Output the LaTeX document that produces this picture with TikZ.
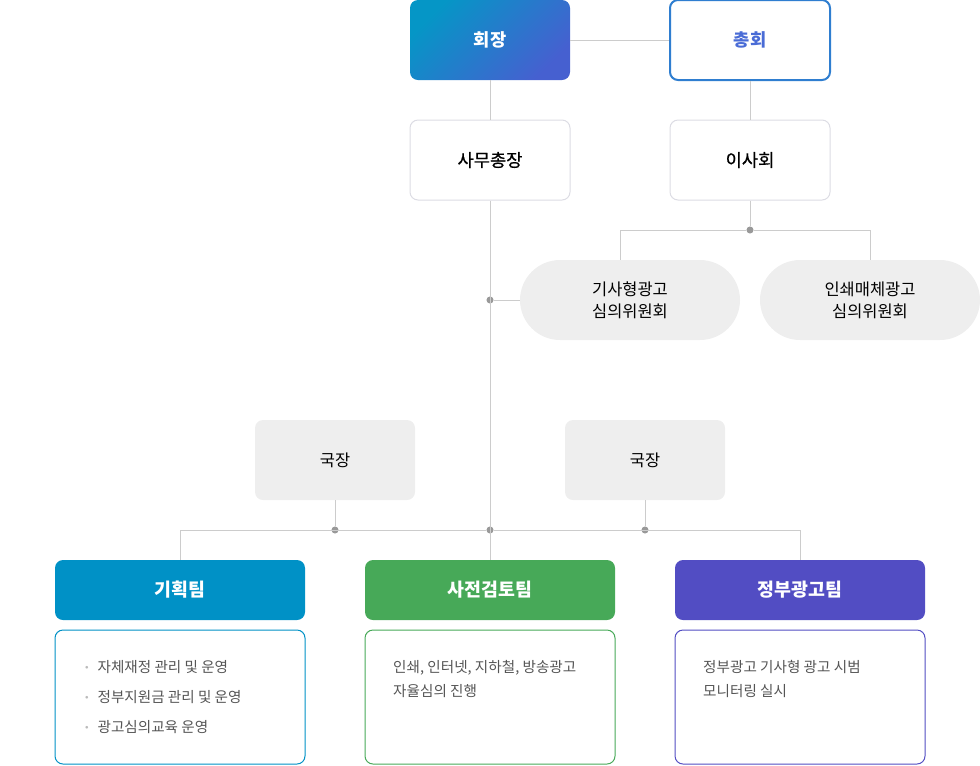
\documentclass[tikz,border=0pt]{standalone}
\usepackage{fontspec}
\setmainfont{Noto Sans CJK KR}
\newfontfamily\krmed[FakeBold=0.6]{Noto Sans CJK KR}
\definecolor{linegray}{HTML}{CCCCCC}
\definecolor{dotgray}{HTML}{999999}
\definecolor{boxline}{HTML}{DCDCE4}
\definecolor{pillgray}{HTML}{EEEEEE}
\definecolor{presA}{HTML}{0596C6}
\definecolor{presB}{HTML}{4660D0}
\definecolor{assembly}{HTML}{2F7ED0}
\definecolor{assemblytext}{HTML}{4A6CD6}
\definecolor{planblue}{HTML}{0091C6}
\definecolor{reviewgreen}{HTML}{47A958}
\definecolor{govpurple}{HTML}{524DC3}
\definecolor{desctext}{HTML}{555555}
\definecolor{bulletgray}{HTML}{BBBBBB}
\newcommand{\bul}{{\color{bulletgray}\raisebox{0.35ex}{\scalebox{0.5}{$\bullet$}}}\hspace{7.5pt}}
\begin{document}
\begin{tikzpicture}
  [x=0.85pt,y=-0.85pt,
   box/.style={rectangle,rounded corners=6.8pt,minimum width=136pt,minimum height=68pt,inner sep=0pt,font=\krmed\fontsize{15}{18}\selectfont},
   head/.style={box,draw=boxline,line width=0.85pt,fill=white},
   chief/.style={box,fill=pillgray,font=\fontsize{14}{17}\selectfont},
   pill/.style={rectangle,rounded corners=34pt,fill=pillgray,minimum width=187pt,minimum height=68pt,inner sep=0pt,align=center,font=\fontsize{14}{18.5}\selectfont},
   team/.style={rectangle,rounded corners=6.8pt,minimum width=212.5pt,minimum height=51pt,inner sep=0pt,text=white,font=\bfseries\fontsize{15.6}{18}\selectfont},
   desc/.style={rectangle,rounded corners=6.8pt,minimum width=212.5pt,minimum height=113.9pt,inner sep=0pt,fill=white,line width=0.85pt},
   desctxt/.style={anchor=north west,inner sep=0pt,align=left,text=desctext,font=\fontsize{12.4}{20.4}\selectfont},
   link/.style={draw=linegray,line width=0.85pt},
   dot/.style={circle,fill=dotgray,inner sep=0pt,minimum size=6pt}]
\useasboundingbox (0,0) rectangle (980,765); % adjust bounding box
% top
\node at (490,40) (pres) [box,top color=presA,bottom color=presB,shading angle=45,text=white,font=\bfseries\fontsize{15}{18}\selectfont] {회장};
\node at (750,40) (assem) [box,draw=assembly,line width=1.7pt,fill=white,text=assemblytext,font=\bfseries\fontsize{15}{18}\selectfont] {총회};
\node at (490,160) (secgen) [head] {사무총장};
\node at (750,160) (board) [head] {이사회};
\draw [link] (pres) -- (assem);
\draw [link] (pres) -- (secgen);
\draw [link] (assem) -- (board);
%
\node at (630,300) (cmtart) [pill] {기사형광고\\심의위원회};
\node at (870,300) (cmtprint) [pill] {인쇄매체광고\\심의위원회};
\node at (750,230) (boarddot) [dot] {};
\draw [link] (board) -- (boarddot);
\draw [link] (boarddot) -| ([xshift=-8.5pt]cmtart.north);
\draw [link] (boarddot) -| (cmtprint);
%
\node at (335,460) (chiefL) [chief] {국장};
\node at (645,460) (chiefR) [chief] {국장};
\node at (180,590) (plan) [team,fill=planblue] {기획팀};
\node at (490,590) (review) [team,fill=reviewgreen] {사전검토팀};
\node at (800,590) (gov) [team,fill=govpurple] {정부광고팀};
\node at (490,300) (spinedot) [dot] {};
\node at (490,530) (busdot) [dot] {};
\node at (335,530) (chiefLdot) [dot] {};
\node at (645,530) (chiefRdot) [dot] {};
\draw [link] (secgen) -- (review);
\draw [link] (spinedot) -- (cmtart);
\draw [link] (plan) |- (busdot) -| (gov);
\draw [link] (chiefL) -- (chiefLdot);
\draw [link] (chiefR) -- (chiefRdot);
% team details
\node at (180,697) (plandesc) [desc,draw=planblue] {};
\node at (490,697) (reviewdesc) [desc,draw=reviewgreen] {};
\node at (800,697) (govdesc) [desc,draw=govpurple] {};
\node at (85,660) (plantxt) [desctxt,font=\fontsize{12.4}{25.5}\selectfont] {\bul 자체재정 관리 및 운영\\\bul 정부지원금 관리 및 운영\\\bul 광고심의교육 운영};
\node at (393,660) (reviewtxt) [desctxt] {인쇄, 인터넷, 지하철, 방송광고\\자율심의 진행};
\node at (703,660) (govtxt) [desctxt] {정부광고 기사형 광고 시범\\모니터링 실시};
\end{tikzpicture}
\end{document}
